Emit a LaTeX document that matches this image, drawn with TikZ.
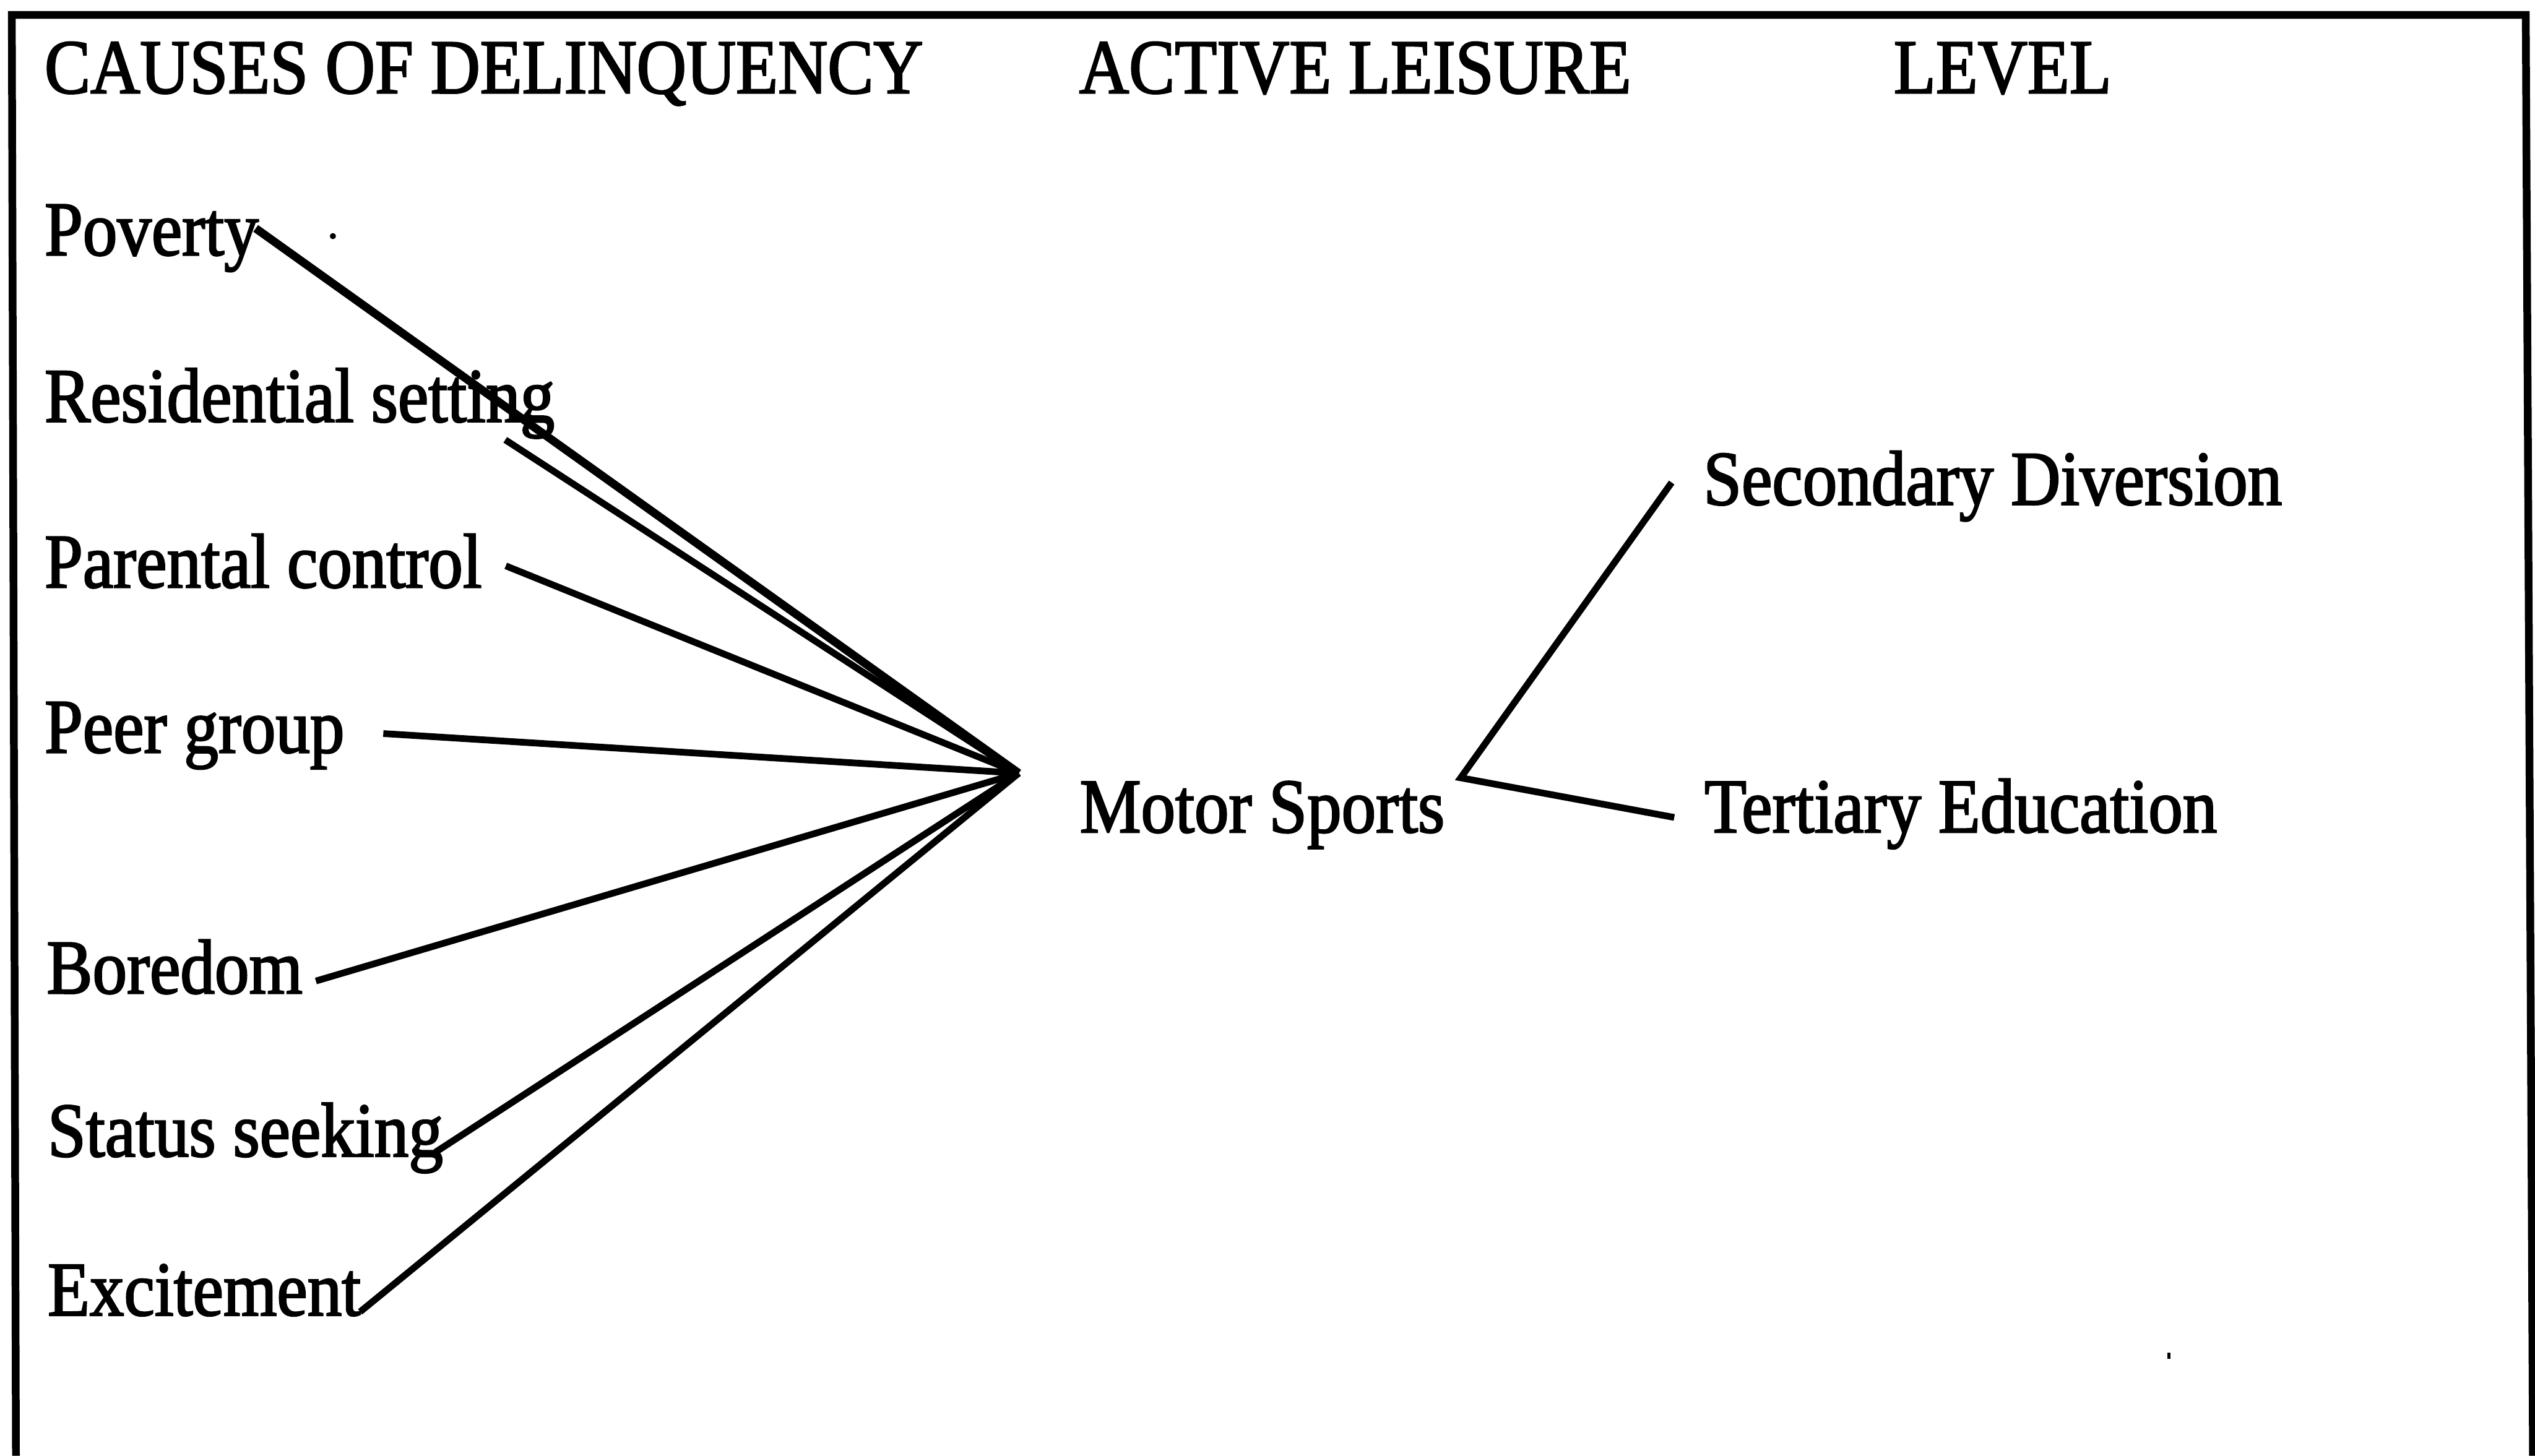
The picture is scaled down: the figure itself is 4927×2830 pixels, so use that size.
\documentclass[tikz,border=0pt]{standalone}
\usepackage{fontspec}
\setmainfont{Liberation Serif}[FakeStretch=0.89, FakeBold=2]
\begin{document}
\begin{tikzpicture}[x=0.01cm, y=-0.01cm,
  lbl/.style={anchor=base west, inner sep=0pt, font=\fontsize{42.7}{50}\selectfont},
  link/.style={line width=0.13cm},
  thicklink/.style={line width=0.16cm},
  frame/.style={line width=0.15cm}]
\useasboundingbox (0,0) rectangle (4927,2830);

% open frame (no bottom edge)
\draw[frame] (31,2830) -- (23,29) -- (4909,29) -- (4923,2830);

% column headings
\node[lbl] (h1) at (86,181) {CAUSES OF DELINQUENCY};
\node[lbl] (h2) at (2097,181) {ACTIVE LEISURE};
\node[lbl] (h3) at (3680,181) {LEVEL};

% causes
\node[lbl] (pov) at (86,496) {Poverty};
\node[lbl] (res) at (86,820) {Residential setting};
\node[lbl] (par) at (86,1142) {Parental control};
\node[lbl] (peer) at (86,1463) {Peer group};
\node[lbl] (bor) at (90,1931) {Boredom};
\node[lbl] (stat) at (92,2248) {Status seeking};
\node[lbl] (exc) at (92,2557) {Excitement};

% leisure activity and levels
\node[lbl] (ms) at (2098,1618) {Motor Sports};
\node[lbl] (sd) at (3310,981) {Secondary Diversion};
\node[lbl] (te) at (3312,1618) {Tertiary Education};

% connector end points
\coordinate (pov-o) at (497,444);
\coordinate (res-o) at (982,855);
\coordinate (par-o) at (983,1100);
\coordinate (peer-o) at (745,1426);
\coordinate (bor-o) at (614,1907);
\coordinate (stat-o) at (846,2240);
\coordinate (exc-o) at (700,2550);
\coordinate (ms-in) at (1980,1503);
\coordinate (ms-out) at (2839,1512);
\coordinate (sd-in) at (3249,938);
\coordinate (te-in) at (3254,1589);

% causes converging on the activity
\draw[thicklink] (pov-o) -- (ms-in);
\draw[link] (res-o) -- (ms-in);
\draw[link] (par-o) -- (ms-in);
\draw[link] (peer-o) -- (ms-in);
\draw[link] (bor-o) -- (ms-in);
\draw[link] (stat-o) -- (ms-in);
\draw[link] (exc-o) -- (ms-in);

% activity branching to levels
\draw[link] (sd-in) -- (ms-out) -- (te-in);

% stray specks
\fill (647,459) circle (6);
\fill (4213,2630) rectangle (4218,2642);
\end{tikzpicture}
\end{document}
